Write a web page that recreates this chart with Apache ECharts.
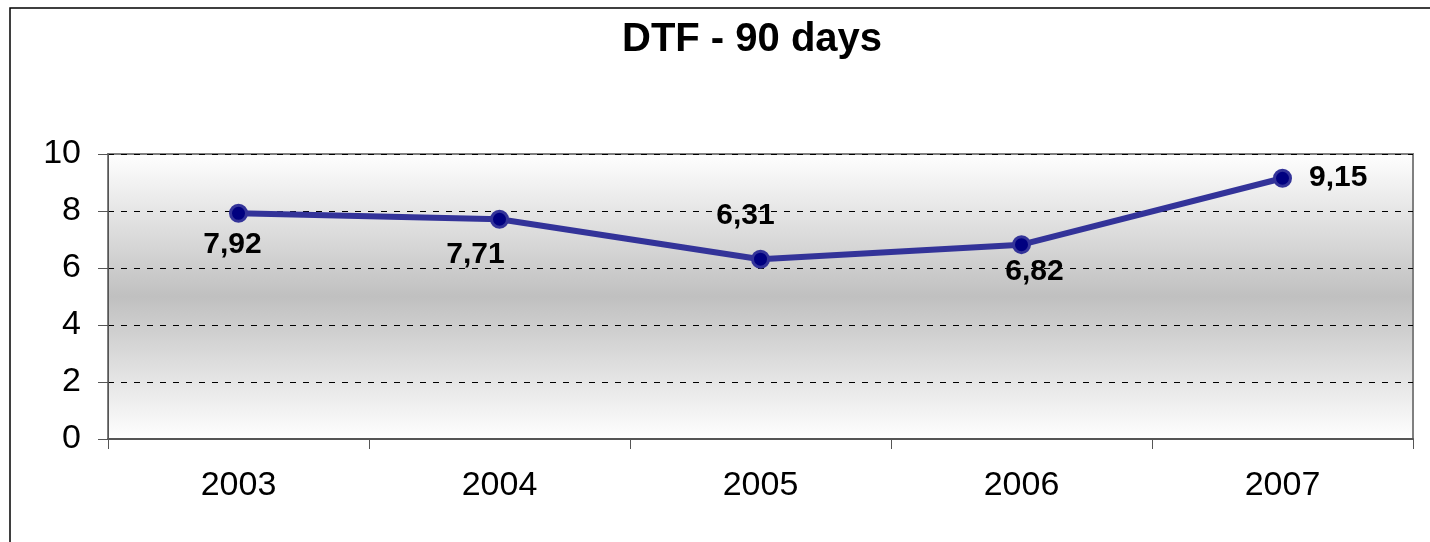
<!DOCTYPE html>
<html>
<head>
<meta charset="utf-8">
<script src="https://cdn.jsdelivr.net/npm/echarts@6/dist/echarts.min.js"></script>
<style>
  html, body { margin: 0; padding: 0; background: #fff; }
  #chart { width: 1430px; height: 542px; }
</style>
</head>
<body>
<div id="chart"></div>
<script>
const years = ["2003", "2004", "2005", "2006", "2007"];
const rates = [7.92, 7.71, 6.31, 6.82, 9.15];
const yTicks = [0, 2, 4, 6, 8, 10];

// where each data label sits relative to its point (as in the original)
const labelPlacement = [
  { position: "bottom", offset: [-6, 2] },
  { position: "bottom", offset: [-24, 6] },
  { position: "top", offset: [-15, -14] },
  { position: "bottom", offset: [13, -2] },
  { position: "right", offset: [12, 0] },
];

const chart = echarts.init(document.getElementById("chart"));

const fmt = (v) => v.toFixed(2).replace(".", ",");

chart.setOption({
  animation: false,
  title: {
    text: "DTF - 90 days",
    left: 617,
    top: 15,
    textStyle: {
      fontFamily: "Liberation Sans, Arial, sans-serif",
      fontSize: 40,
      fontWeight: "bold",
      color: "#000",
    },
  },
  graphic: [
    {
      type: "rect",
      shape: { x: 10, y: 8, width: 1440, height: 560 },
      style: { fill: "none", stroke: "#000", lineWidth: 1.5 },
      z: 100,
    },
  ],
  grid: {
    left: 108,
    right: 17,
    top: 154,
    bottom: 103,
    show: true,
    borderColor: "#808080",
    borderWidth: 2,
    backgroundColor: new echarts.graphic.LinearGradient(0, 0, 0, 1, [
      { offset: 0, color: "#ffffff" },
      { offset: 0.5, color: "#c0c0c0" },
      { offset: 1, color: "#ffffff" },
    ]),
  },
  xAxis: {
    type: "category",
    data: years,
    boundaryGap: true,
    axisLine: { lineStyle: { color: "#555", width: 2 } },
    axisTick: { show: true, length: 10, lineStyle: { color: "#555" } },
    axisLabel: {
      margin: 30,
      fontSize: 34,
      fontFamily: "Liberation Sans, Arial, sans-serif",
      color: "#000",
    },
  },
  yAxis: {
    type: "value",
    min: yTicks[0],
    max: yTicks[yTicks.length - 1],
    interval: 2,
    axisLine: { show: true, lineStyle: { color: "#555", width: 1 } },
    axisTick: { show: true, length: 10, lineStyle: { color: "#555" } },
    axisLabel: {
      margin: 27,
      fontSize: 34,
      fontFamily: "Liberation Sans, Arial, sans-serif",
      color: "#000",
    },
    splitLine: {
      show: true,
      lineStyle: { color: "#000", type: [6, 7], width: 1 },
    },
  },
  series: [
    {
      type: "line",
      data: rates.map((v, i) => ({
        value: v,
        label: labelPlacement[i],
      })),
      symbol: "circle",
      symbolSize: 16,
      lineStyle: { color: "#333399", width: 6 },
      itemStyle: { color: "#000080", borderColor: "#333399", borderWidth: 3 },
      label: {
        show: true,
        formatter: (p) => fmt(p.value),
        fontFamily: "Liberation Sans, Arial, sans-serif",
        fontSize: 30,
        fontWeight: "bold",
        color: "#000",
      },
      z: 5,
    },
  ],
});
</script>
</body>
</html>
